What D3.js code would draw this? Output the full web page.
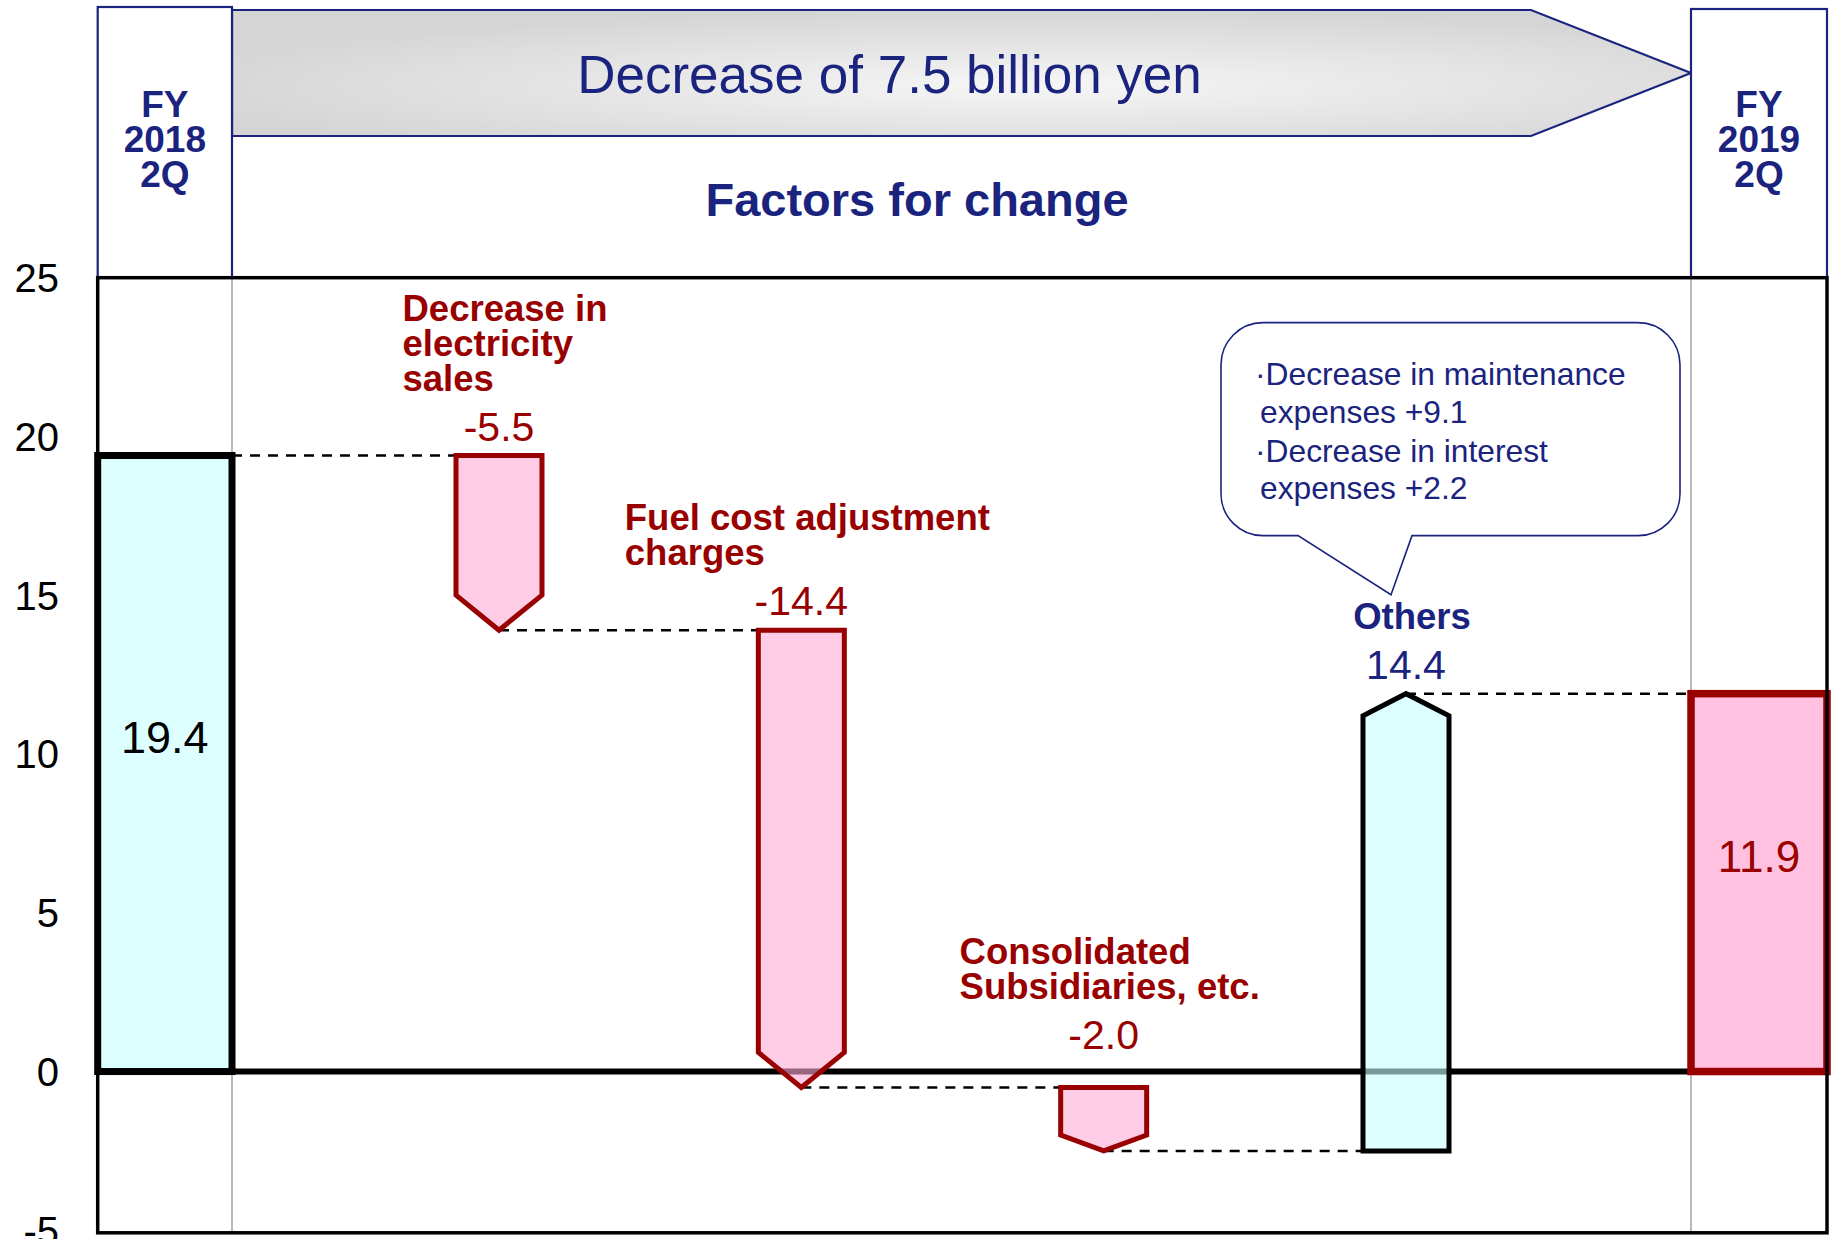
<!DOCTYPE html>
<html>
<head>
<meta charset="utf-8">
<script src="https://cdn.jsdelivr.net/npm/d3@7"></script>
<style>
body { margin: 0; background: #fff; overflow: hidden; }
svg { display: block; font-family: "Liberation Sans", Arial, sans-serif; }
</style>
</head>
<body>
<svg id="chart" width="1845" height="1239"></svg>
<script>
// ---- data ----
var TITLE = "Decrease of 7.5 billion yen";
var SUBTITLE = "Factors for change";
var startLabel = ["FY", "2018", "2Q"];
var endLabel = ["FY", "2019", "2Q"];
var startValue = 19.4;
var endValue = 11.9;
var factors = ["electricity", "fuel", "subsidiaries", "others"];
var factorNames = [["Decrease in", "electricity", "sales"], ["Fuel cost adjustment", "charges"], ["Consolidated", "Subsidiaries, etc."], ["Others"]];
var factorValues = [-5.5, -14.4, -2.0, 14.4];
var othersDetail = ["\u00b7Decrease in maintenance", "expenses +9.1", "\u00b7Decrease in interest", "expenses +2.2"];
var yTicks = [25, 20, 15, 10, 5, 0, -5];

// ---- layout ----
var NAVY = "#1a237e";
var RED = "#990000";
var plot = { left: 97.7, right: 1827, top: 277.7 };
var colLeft = 232, colRight = 1691;   // dividers of the two total columns
var ARROW_W = 86;

var svg = d3.select("#chart");
var y = d3.scaleLinear().domain([-5, 25]).range([1230.3, 277.7]);
var x = d3.scalePoint().domain(factors).range([499, 1406]);

function fmt(v) { return (v < 0 ? "-" : "") + Math.abs(v).toFixed(1); }

// running levels of the waterfall
var level = startValue;
var steps = factorValues.map(function (v, i) {
	var s = { id: factors[i], name: factorNames[i], value: v, from: level, to: level + v };
	level = s.to;
	return s;
});

// ---- header ----
var defs = svg.append("defs");
var grad = defs.append("radialGradient").attr("id", "hdrGrad")
	.attr("cx", 0.55).attr("cy", 0.6).attr("r", 0.6);
grad.append("stop").attr("offset", "0%").attr("stop-color", "#f6f6f6");
grad.append("stop").attr("offset", "100%").attr("stop-color", "#d5d5d5");

var hdr = { top: 10, bottom: 136, shoulder: 1531 };
svg.append("path")
	.attr("d", "M" + colLeft + "," + hdr.top + " H" + hdr.shoulder +
		" L" + colRight + "," + (hdr.top + hdr.bottom) / 2 +
		" L" + hdr.shoulder + "," + hdr.bottom + " H" + colLeft + " Z")
	.attr("fill", "url(#hdrGrad)")
	.attr("stroke", NAVY).attr("stroke-width", 2.2);

svg.append("text")
	.attr("x", (colLeft + hdr.shoulder) / 2 + 8).attr("y", 93)
	.attr("text-anchor", "middle").attr("font-size", 53).attr("fill", NAVY)
	.text(TITLE);

svg.append("text")
	.attr("x", 917).attr("y", 216)
	.attr("text-anchor", "middle").attr("font-size", 47).attr("font-weight", "bold").attr("fill", NAVY)
	.text(SUBTITLE);

function headerBox(x0, x1, top, lines) {
	svg.append("rect")
		.attr("x", x0).attr("y", top).attr("width", x1 - x0).attr("height", plot.top - top)
		.attr("fill", "#fff").attr("stroke", NAVY).attr("stroke-width", 2.2);
	var t = svg.append("text")
		.attr("text-anchor", "middle").attr("font-size", 37).attr("font-weight", "bold").attr("fill", NAVY);
	lines.forEach(function (l, i) {
		t.append("tspan").attr("x", (x0 + x1) / 2).attr("y", 117 + i * 35).text(l);
	});
}
headerBox(plot.left, colLeft, 7, startLabel);
headerBox(colRight, plot.right, 9, endLabel);

// ---- plot body ----
var bottom = y(-5) + 2.5;

svg.selectAll("line.divider")
	.data([colLeft, colRight])
	.enter().append("line")
	.attr("class", "divider")
	.attr("x1", function (d) { return d; }).attr("x2", function (d) { return d; })
	.attr("y1", plot.top).attr("y2", bottom)
	.attr("stroke", "#8a8a8a").attr("stroke-width", 1.2);

// zero line sits under the translucent factor arrows
svg.append("line")
	.attr("x1", plot.left).attr("x2", plot.right)
	.attr("y1", y(0)).attr("y2", y(0))
	.attr("stroke", "#000").attr("stroke-width", 6);

// total bars
var totals = [
	{ value: startValue, x0: plot.left, x1: colLeft, fill: "#ddffff", stroke: "#000", sw: 7, size: 45 },
	{ value: endValue, x0: colRight, x1: plot.right, fill: "#ffc1df", stroke: RED, sw: 7.5, size: 44 }
];
totals.forEach(function (d) {
	svg.append("rect")
		.attr("x", d.x0).attr("y", y(d.value))
		.attr("width", d.x1 - d.x0).attr("height", y(0) - y(d.value))
		.attr("fill", d.fill).attr("stroke", d.stroke).attr("stroke-width", d.sw);
	svg.append("text")
		.attr("x", (d.x0 + d.x1) / 2).attr("y", (y(d.value) + y(0)) / 2 - 26)
		.attr("dy", "0.35em")
		.attr("text-anchor", "middle").attr("font-size", d.size).attr("fill", d.stroke)
		.text(fmt(d.value));
});

// dashed connectors between consecutive marks
var links = [{ x1: colLeft, x2: x(factors[0]) - ARROW_W / 2, v: startValue }];
steps.forEach(function (s, i) {
	var next = i < steps.length - 1 ? x(factors[i + 1]) - ARROW_W / 2 : colRight;
	links.push({ x1: x(s.id), x2: next, v: s.to });
});
svg.selectAll("line.link")
	.data(links)
	.enter().append("line")
	.attr("class", "link")
	.attr("x1", function (d) { return d.x1; }).attr("x2", function (d) { return d.x2; })
	.attr("y1", function (d) { return y(d.v); }).attr("y2", function (d) { return y(d.v); })
	.attr("stroke", "#000").attr("stroke-width", 2.5).attr("stroke-dasharray", "10,8");

// factor arrows
function arrowPath(s) {
	var cx = x(s.id), x0 = cx - ARROW_W / 2, x1 = cx + ARROW_W / 2;
	var y0 = y(s.from), y1 = y(s.to);
	var len = Math.abs(y1 - y0);
	if (s.value < 0) {
		var h = Math.min(35, len * 0.25);
		return "M" + x0 + "," + y0 + " H" + x1 + " V" + (y1 - h) + " L" + cx + "," + y1 +
			" L" + x0 + "," + (y1 - h) + " Z";
	}
	var hu = Math.min(22, len * 0.25);
	return "M" + x0 + "," + y0 + " H" + x1 + " V" + (y1 + hu) + " L" + cx + "," + y1 +
		" L" + x0 + "," + (y1 + hu) + " Z";
}
svg.selectAll("path.factor")
	.data(steps)
	.enter().append("path")
	.attr("class", "factor")
	.attr("d", arrowPath)
	.attr("fill", function (s) { return s.value < 0 ? "rgb(255,170,212)" : "rgb(198,255,255)"; })
	.attr("fill-opacity", 0.6)
	.attr("stroke", function (s) { return s.value < 0 ? RED : "#000"; })
	.attr("stroke-width", 5)
	.attr("stroke-linejoin", "miter");

// value + name labels above each factor
steps.forEach(function (s) {
	var cx = x(s.id);
	var col = s.value < 0 ? RED : NAVY;
	var top = Math.min(y(s.from), y(s.to));
	var vy = top < y(0) ? top - 15 : y(0) - 23;

	svg.append("text")
		.attr("x", cx).attr("y", vy)
		.attr("text-anchor", "middle").attr("font-size", 41).attr("fill", col)
		.text(fmt(s.value));

	// name block: left aligned lines, block centred over the arrow
	var name = svg.append("text")
		.attr("font-size", 36.5).attr("font-weight", "bold").attr("fill", col);
	var n = s.name.length;
	var spans = s.name.map(function (l, i) {
		return name.append("tspan").attr("x", 0).attr("y", vy - 50 - (n - 1 - i) * 35).text(l);
	});
	var w = d3.max(spans, function (t) { return t.node().getComputedTextLength(); });
	spans.forEach(function (t) { t.attr("x", cx - w / 2 + 6); });
	s.nameTop = vy - 50 - (n - 1) * 35;
});

// callout bubble for "Others"
var oth = steps[steps.length - 1];
var ocx = x(oth.id);
var tipY = oth.nameTop - 34, bB = tipY - 59, bT = bB - 213;
var bL = ocx - 185, bR = ocx + 274, r = 42;
svg.append("path")
	.attr("d", "M" + (bL + r) + "," + bT + " H" + (bR - r) +
		" A" + r + "," + r + " 0 0 1 " + bR + "," + (bT + r) +
		" V" + (bB - r) +
		" A" + r + "," + r + " 0 0 1 " + (bR - r) + "," + bB +
		" H" + (ocx + 6) + " L" + (ocx - 15) + "," + tipY + " L" + (ocx - 108) + "," + bB +
		" H" + (bL + r) +
		" A" + r + "," + r + " 0 0 1 " + bL + "," + (bB - r) +
		" V" + (bT + r) +
		" A" + r + "," + r + " 0 0 1 " + (bL + r) + "," + bT + " Z")
	.attr("fill", "#fff").attr("stroke", NAVY).attr("stroke-width", 1.6);

var cText = svg.append("text").attr("font-size", 31.75).attr("fill", NAVY);
var offs = [62, 100, 139, 176];
othersDetail.forEach(function (l, i) {
	cText.append("tspan")
		.attr("x", ocx - (l.charAt(0) === "\u00b7" ? 151 : 146))
		.attr("y", bT + offs[i])
		.text(l);
});

// frame
svg.append("rect")
	.attr("x", plot.left).attr("y", plot.top)
	.attr("width", plot.right - plot.left).attr("height", bottom - plot.top)
	.attr("fill", "none").attr("stroke", "#000").attr("stroke-width", 3.5);

// y tick labels
svg.selectAll("text.tick")
	.data(yTicks)
	.enter().append("text")
	.attr("class", "tick")
	.attr("x", 59).attr("y", function (d) { return y(d); })
	.attr("dy", "0.36em")
	.attr("text-anchor", "end").attr("font-size", 40).attr("fill", "#000")
	.text(function (d) { return d; });
</script>
</body>
</html>
